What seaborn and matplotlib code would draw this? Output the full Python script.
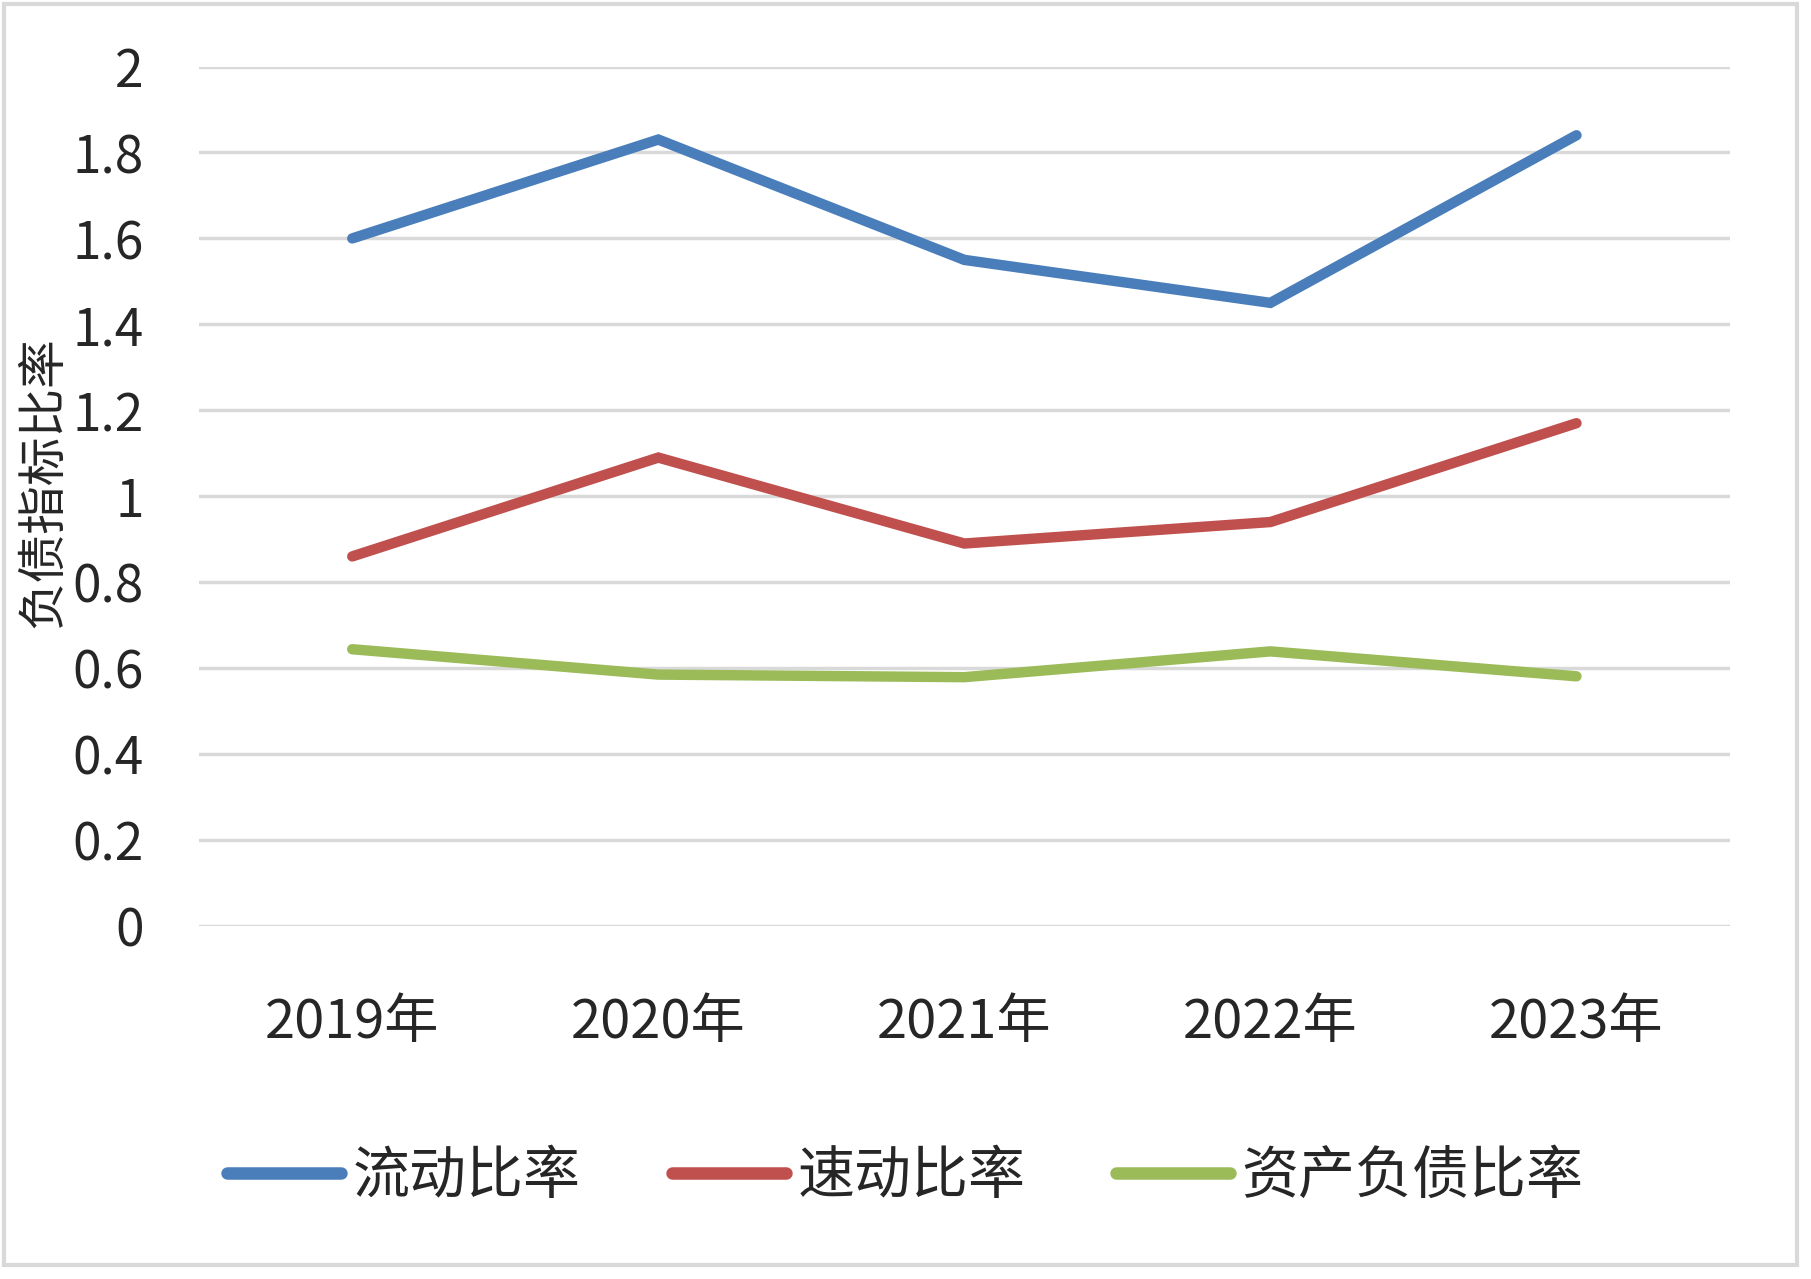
import matplotlib.pyplot as plt
import matplotlib.patches as mpatches
import seaborn as sns
import pandas as pd

years = ['2019年', '2020年', '2021年', '2022年', '2023年']
current_ratio = [1.60, 1.83, 1.55, 1.45, 1.84]
quick_ratio = [0.86, 1.09, 0.89, 0.94, 1.17]
debt_ratio = [0.644, 0.585, 0.579, 0.639, 0.581]
series_names = ['流动比率', '速动比率', '资产负债比率']
series_colors = ['#4A7EBB', '#C0504D', '#9BBB59']

sns.set_style('white')
plt.rcParams['font.family'] = ['Noto Sans CJK SC', 'DejaVu Sans']

df = pd.DataFrame({
    '年份': years * 3,
    '比率': current_ratio + quick_ratio + debt_ratio,
    '指标': [s for s in series_names for _ in years],
})

fig = plt.figure(figsize=(18.11, 12.79), dpi=100)
ax = fig.add_axes([0.110, 0.276, 0.845, 0.672])

sns.lineplot(data=df, x='年份', y='比率', hue='指标', hue_order=series_names,
             palette=series_colors, linewidth=7.5, sort=False, ax=ax,
             solid_capstyle='round', solid_joinstyle='miter')

ax.set_ylim(0, 2)
ax.set_xlim(-0.5, 4.5)
ax.set_yticks([0, 0.2, 0.4, 0.6, 0.8, 1.0, 1.2, 1.4, 1.6, 1.8, 2.0])
ax.set_yticklabels(['0', '0.2', '0.4', '0.6', '0.8', '1', '1.2', '1.4', '1.6', '1.8', '2'])
ax.yaxis.grid(True, color='#D9D9D9', linewidth=2.5)
ax.set_axisbelow(True)
for sp in ax.spines.values():
    sp.set_visible(False)
ax.tick_params(axis='y', labelsize=37, length=0, pad=40)
ax.tick_params(axis='x', labelsize=39, length=0, pad=50)
ax.set_xlabel('')
ax.set_ylabel('')

fig.text(0.024, 0.623, '负债指标比率', rotation=90, fontsize=35,
         ha='center', va='center')

handles, labels = ax.get_legend_handles_labels()
ax.get_legend().remove()
leg = fig.legend(handles, labels, loc='center', bbox_to_anchor=(0.50, 0.080),
                 ncol=3, frameon=False, fontsize=41, handlelength=2.0,
                 handletextpad=0.2, columnspacing=1.6)
for line in leg.get_lines():
    line.set_linewidth(9)

fig.patches.append(mpatches.Rectangle((0.002, 0.011), 0.990, 0.986,
                                      transform=fig.transFigure, fill=False,
                                      edgecolor='#D9D9D9', linewidth=3))

fig.savefig('out.png', dpi=100)
